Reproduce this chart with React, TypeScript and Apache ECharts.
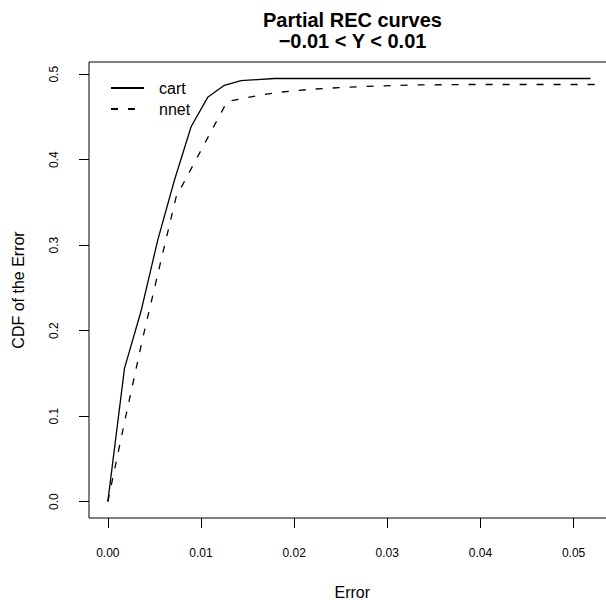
import React, { useEffect, useRef } from "react";
import * as echarts from "echarts";

const seriesNames = ["cart", "nnet"];
const cartX = [0, 0.00179, 0.00357, 0.00536, 0.00715, 0.00894, 0.01072, 0.01251, 0.0143, 0.01608, 0.01787, 0.01966, 0.02144, 0.02323, 0.02502, 0.02681, 0.02859, 0.03038, 0.03217, 0.03395, 0.03574, 0.03753, 0.03931, 0.0411, 0.04289, 0.04468, 0.04646, 0.04825, 0.05004, 0.05182];
const cartY = [0, 0.156, 0.223, 0.306, 0.376, 0.4386, 0.473, 0.487, 0.4924, 0.4938, 0.495, 0.495, 0.495, 0.495, 0.495, 0.495, 0.495, 0.495, 0.495, 0.495, 0.495, 0.495, 0.495, 0.495, 0.495, 0.495, 0.495, 0.495, 0.495, 0.495];
const nnetX = [0, 0.00183, 0.00366, 0.00549, 0.00732, 0.00915, 0.01098, 0.01281, 0.01464, 0.01647, 0.0183, 0.02013, 0.02196, 0.02379, 0.02562, 0.02745, 0.02928, 0.03111, 0.03294, 0.03477, 0.0366, 0.03843, 0.04026, 0.04209, 0.04392, 0.04575, 0.04758, 0.04941, 0.05124, 0.05307];
const nnetY = [0, 0.095, 0.187, 0.272, 0.356, 0.3936, 0.4308, 0.468, 0.472, 0.4759, 0.4788, 0.4808, 0.4825, 0.4837, 0.4848, 0.4856, 0.4863, 0.4869, 0.4874, 0.4876, 0.4878, 0.488, 0.488, 0.488, 0.488, 0.488, 0.488, 0.488, 0.488, 0.488];
const xTicks = [0, 0.01, 0.02, 0.03, 0.04, 0.05];
const yTicks = [0, 0.1, 0.2, 0.3, 0.4, 0.5];
const titleLines = ["Partial REC curves", "\u22120.01 < Y < 0.01"];
const xName = "Error";
const yName = "CDF of the Error";

const FONT = "'Liberation Sans', Arial, Helvetica, sans-serif";

export default function App() {
  const ref = useRef<HTMLDivElement>(null);
  useEffect(() => {
    document.body.style.margin = "0";
    const chart = echarts.init(ref.current!, null, { renderer: "svg" });
    const pair = (xs: number[], ys: number[]) => xs.map((x, i) => [x, ys[i]]);
    chart.setOption({
      animation: false,
      backgroundColor: "#fff",
      textStyle: { fontFamily: FONT, color: "#000" },
      grid: {
        left: 89,
        top: 62,
        width: 526.5,
        height: 456,
        outerBoundsMode: "none",
        containLabel: false,
        show: true,
        borderColor: "#000",
        borderWidth: 1,
        backgroundColor: "transparent",
      },
      xAxis: {
        type: "value",
        min: -0.00202,
        max: 0.0545,
        axisLine: { show: false, onZero: false },
        splitLine: { show: false },
        axisTick: { show: true, inside: false, length: 10, customValues: xTicks, lineStyle: { color: "#000", width: 1 } },
        axisLabel: {
          customValues: xTicks,
          formatter: (v: number) => v.toFixed(2),
          fontSize: 12,
          color: "#000",
          margin: 29,
          fontFamily: FONT,
        },
        name: xName,
        nameLocation: "middle",
        nameGap: 66,
        nameTextStyle: { fontSize: 16, color: "#000", fontFamily: FONT },
      },
      yAxis: {
        type: "value",
        min: -0.0191,
        max: 0.5143,
        axisLine: { show: false, onZero: false },
        splitLine: { show: false },
        axisTick: { show: true, inside: false, length: 10, customValues: yTicks, lineStyle: { color: "#000", width: 1 } },
        axisLabel: {
          customValues: yTicks,
          formatter: (v: number) => v.toFixed(1),
          fontSize: 12,
          color: "#000",
          margin: 29,
          rotate: 90,
          fontFamily: FONT,
        },
        name: yName,
        nameLocation: "middle",
        nameGap: 63,
        nameTextStyle: { fontSize: 16, color: "#000", fontFamily: FONT },
      },
      legend: {
        data: seriesNames,
        orient: "vertical",
        left: 105,
        top: 75,
        itemWidth: 33,
        itemHeight: 14,
        itemGap: 5,
        itemStyle: { color: "transparent", borderColor: "transparent", borderWidth: 0, opacity: 0 },
        textStyle: { fontSize: 16, color: "#000", fontFamily: FONT, padding: [0, 0, 0, 10] },
      },
      graphic: titleLines.map((t, i) => ({
        type: "text",
        x: 352.5,
        y: 20 + i * 20.5,
        style: {
          text: t,
          textAlign: "center",
          textVerticalAlign: "middle",
          font: `bold 20px ${FONT}`,
          fill: "#000",
        },
      })),
      series: [
        {
          name: seriesNames[0],
          type: "line",
          data: pair(cartX, cartY),
          symbol: "none",
          lineStyle: { color: "#000", width: 1.3, type: "solid" },
          itemStyle: { color: "#000" },
        },
        {
          name: seriesNames[1],
          type: "line",
          data: pair(nnetX, nnetY),
          symbol: "none",
          lineStyle: { color: "#000", width: 1.3, type: [7, 10] },
          itemStyle: { color: "#000" },
        },
      ],
    });
    return () => chart.dispose();
  }, []);
  return <div ref={ref} style={{ position: "fixed", left: 0, top: 0, width: 606, height: 600 }} />;
}
